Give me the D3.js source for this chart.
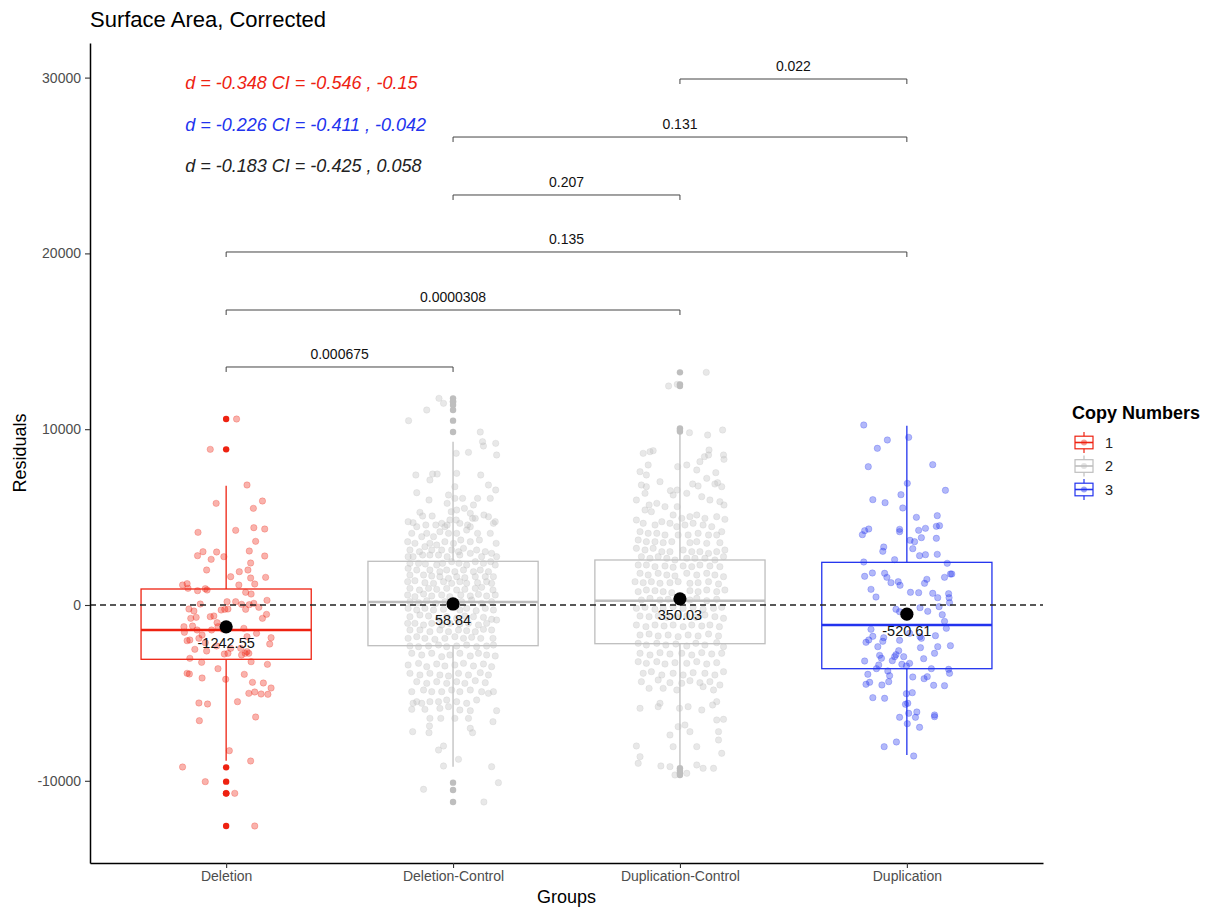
<!DOCTYPE html>
<html lang="en">
<head>
<meta charset="UTF-8">
<title>Surface Area, Corrected</title>
<script src="https://d3js.org/d3.v7.min.js"></script>
<style>
  body { margin: 0; background: #ffffff; }
  svg { display: block; font-family: "Liberation Sans", Arial, sans-serif; }
</style>
</head>
<body>
<div id="chart"></div>
<script>
// groups and their copy number
const groups = ["Deletion", "Deletion-Control", "Duplication-Control", "Duplication"];
const copyNumber = ["1", "2", "2", "3"];
const copyLevels = ["1", "2", "3"];
const copyColors = {"1": "#ee2211", "2": "#bebebe", "3": "#2233ee"};

// box statistics
const q1Values = [-3089, -2315, -2201, -3623];
const medianValues = [-1422, 171, 245, -1138];
const q3Values = [910, 2486, 2560, 2427];
const whiskerLow = [-8857, -9198, -9200, -8532];
const whiskerHigh = [6786, 9289, 9800, 10200];
const meanValues = [-1242.55, 58.84, 350.03, -520.61];
const outlierValues = [
  [10579, 8854, -9234, -10049, -10713, -10713, -12571],
  [11755, 11565, 11376, 11091, 10485, 9840, -10106, -10523, -11206],
  [13234, 12552, 12457, 10049, 9954, 9870, -9290, -9420, -9574, -9669],
  []
];

// jittered residuals: [jitter (-1..1 of jitter width), residual]
const deletionPoints = [
  [.23,10579],[-.35,8854],[.46,6825],[-.22,5782],[.80,5915],[.60,5498],[.21,4247],[-.62,4133],[.61,4398],[.85,4322],
  [.65,3621],[.51,3071],[-.21,3014],[-.63,2806],[-.51,3033],[-.33,2597],[-.05,2749],[.85,2787],[.54,2389],[-.43,1990],
  [.29,1896],[.48,1990],[.10,1611],[.54,1535],[.87,1573],[-.96,1137],[-.86,1213],[-.84,948],[-.63,815],[-.46,929],
  [-.42,853],[.28,1137],[.63,1194],[.43,720],[.55,625],[.02,189],[.21,189],[-.57,57],[-.82,-228],[-.71,-342],
  [-.78,-759],[-.66,-702],[-.35,-664],[-.27,-626],[-.11,-285],[-.03,-247],[.04,-228],[.34,38],[.43,-247],[.51,19],
  [.61,94],[.72,-133],[.90,265],[.80,-759],[.89,-531],[-.93,-1233],[-.74,-1195],[-.92,-1555],[-.64,-1422],[-.53,-1707],
  [-.32,-1422],[-.20,-1005],[-.18,-1233],[-.07,-1384],[.39,-1327],[.46,-1802],[.67,-1612],[.99,-1858],[-.86,-2029],[-.80,-1991],
  [-.60,-1896],[-.46,-2143],[-.69,-2522],[-.43,-2617],[-.21,-2332],[-.04,-2788],[.04,-2750],[.10,-2465],[.32,-2465],[.42,-2750],
  [.46,-2655],[.50,-2750],[.34,-2844],[.96,-2219],[-.80,-3034],[-.54,-3262],[-.18,-3622],[-.01,-4228],[.40,-3944],[.55,-3224],
  [.91,-3375],[-.86,-3887],[-.81,-3925],[-.53,-4153],[.58,-4399],[.82,-4437],[.50,-5025],[.63,-4949],[.77,-5063],[.92,-5081],
  [.99,-4721],[-.60,-5574],[-.41,-5632],[.25,-5499],[-.59,-6580],[.65,-6371],[.07,-8286],[.54,-8874],[-.96,-9215],[-.46,-10049],
  [.19,-10713],[0,-10713],[.63,-12571]
];

const deletionControlPoints = [
  [-.31,11755],[0,11565],[-.21,11471],[-.58,11091],[-.98,10485],[.60,9840],
  [.94,9195],[.65,9290],[.67,9044],[.96,8532],[.07,8627],[.34,8684],[-.82,7394],[-.45,7451],[-.35,7451],[-.51,7110],
  [.08,7489],[.61,7394],[.78,6825],[.94,6541],[-.80,6389],[-.10,6257],[.04,6731],[.04,6067],[.21,6067],[.54,6067],
  [-.53,5972],[.82,6067],[-.13,5783],[.45,5688],[.25,5498],[-.73,5271],[-.04,5309],[.08,5403],[.38,5214],[.68,5119],
  [.78,5024],[-.99,4740],[-.88,4683],[-.67,5062],[-.46,5062],[-.80,4455],[-.60,4550],[-.38,4550],[-.25,4645],[-.18,4455],
  [-.13,4550],[-.07,4835],[.07,4835],[.15,4645],[.32,4550],[.43,4929],[.49,4929],[.89,4645],[.93,4740],[-.91,4076],
  [-.69,3887],[-.58,4076],[-.43,3887],[-.29,4171],[-.10,4076],[.08,4076],[.30,4266],[.38,4455],[.54,4076],[.82,4076],
  [-1,3602],[-.84,3507],[-.51,3507],[-.36,3413],[-.18,3602],[.01,3507],[.17,3697],[.38,3602],[.58,3697],[.95,3507],
  [-.95,3128],[-.74,3033],[-.62,3318],[-.47,3128],[-.25,3128],[-.03,3128],[.12,3033],[.23,3223],[.52,3128],[.71,3033],
  [.85,2939],[-.99,2749],[-.88,2749],[-.67,2844],[-.51,2844],[-.32,2844],[-.13,2749],[.15,2844],[.38,2939],[.63,2749],
  [.96,2749],[-.95,2370],[-.76,2370],[-.61,2332],[-.36,2275],[-.23,2370],[-.03,2465],[.13,2370],[.30,2275],[.49,2465],
  [.67,2370],[.83,2465],[.93,2275],[-.99,2085],[-.80,1991],[-.51,1991],[-.29,1896],[-.14,1991],[.04,1896],[.23,1991],
  [.45,1896],[.60,1991],[.78,1896],[-.95,1706],[-.65,1706],[-.47,1649],[-.29,1611],[-.10,1517],[.08,1611],[.26,1555],
  [.49,1611],[.71,1611],[.89,1611],[-1,1327],[-.84,1384],[-.62,1270],[-.43,1232],[-.21,1327],[-.03,1232],[.15,1327],
  [.30,1232],[.54,1270],[.74,1327],[.85,1232],[-.95,948],[-.74,853],[-.54,948],[-.36,891],[-.14,948],[.08,853],
  [.26,891],[.49,948],[.63,1005],[.88,853],[-1,569],[-.84,474],[-.65,625],[-.47,512],[-.25,569],[-.07,474],
  [.17,569],[.38,512],[.56,606],[.74,512],[.93,569],[-.95,189],[-.76,133],[-.58,246],[-.38,95],[-.18,189],
  [.19,189],[.41,284],[.63,95],[.85,189],[-.99,-190],[-.80,-285],[-.62,-190],[-.43,-285],[-.21,-247],[.15,-285],
  [.30,-190],[.51,-322],[.71,-190],[.89,-285],[-.95,-664],[-.73,-569],[-.54,-626],[-.32,-758],[-.14,-664],[.08,-758],
  [.26,-626],[.45,-664],[.67,-702],[.85,-815],[-1,-1043],[-.84,-1043],[-.65,-1138],[-.47,-1043],[-.25,-1138],[-.07,-1043],
  [.15,-1081],[.34,-1043],[.56,-1138],[.74,-1043],[.96,-853],[-.95,-1422],[-.73,-1422],[-.51,-1517],[-.29,-1422],[-.10,-1517],
  [.12,-1422],[.30,-1460],[.49,-1517],[.67,-1384],[.85,-1422],[-.99,-1896],[-.80,-1801],[-.62,-1896],[-.40,-1953],[-.18,-1896],
  [.04,-1801],[.23,-1896],[.41,-1839],[.61,-1896],[.88,-1896],[-.95,-2332],[-.76,-2370],[-.54,-2332],[-.32,-2275],[-.14,-2370],
  [.08,-2332],[.30,-2275],[.52,-2370],[.74,-2332],[.89,-2275],[-.91,-2749],[-.69,-2844],[-.47,-2749],[-.25,-2939],[-.07,-2844],
  [.15,-2749],[.38,-2901],[.56,-2749],[.74,-2844],[.93,-2901],[-.99,-3413],[-.76,-3318],[-.58,-3508],[-.36,-3356],[-.18,-3470],
  [.04,-3413],[.23,-3318],[.45,-3470],[.67,-3356],[.85,-3508],[-.95,-3887],[-.73,-3982],[-.51,-3887],[-.29,-3982],[-.10,-4039],
  [.12,-3887],[.34,-3982],[.60,-3849],[.78,-3982],[-.80,-4361],[-.58,-4456],[-.36,-4361],[-.14,-4456],[.08,-4361],[.26,-4456],
  [.49,-4304],[.71,-4418],[-.91,-4930],[-.65,-4835],[-.47,-4930],[-.25,-4930],[-.03,-4835],[.15,-4930],[.38,-4835],[.63,-4930],
  [.89,-4930],[-.80,-5499],[-.69,-5593],[-.88,-5593],[-.51,-5499],[-.32,-5499],[-.14,-5404],[.08,-5499],[.30,-5593],[.52,-5404],
  [.78,-5025],[-.91,-5935],[-.62,-5935],[-.29,-5878],[-.10,-5783],[.15,-5973],[.38,-6011],[.96,-6011],[-.51,-6447],[-.27,-6447],
  [.04,-6447],[.34,-6447],[.88,-6636],[-.89,-7205],[-.53,-7262],[-.52,-6883],[.38,-7015],[.43,-7262],[-.21,-8020],[-.32,-8248],
  [.12,-8779],[-.21,-9158],[.85,-9196],[-.65,-10485],[1,-10106],[.68,-11206]
];

const duplicationControlPoints = [
  [.58,13234],[-.25,12457],[-.06,12552],[.21,9803],[.61,9670],[.94,9954],[.15,-9574],[-.11,-9669],
  [-.81,8627],[-.66,8722],[-.59,8779],[-.70,7964],[-.88,7584],[-.05,7869],[.15,7964],[.37,7679],[.44,8153],[.54,8438],
  [.63,8532],[.64,8817],[.96,8532],[.97,8286],[.79,7528],[-.74,7395],[-.44,7016],[-.85,6826],[-.74,6731],[-.21,6504],
  [-.06,6542],[.15,6352],[.28,6883],[.40,6769],[.59,7205],[.77,6883],[.83,6959],[.92,6731],[-.96,5973],[-.77,6352],
  [-.68,5688],[-.51,5783],[-.33,5594],[-.15,6257],[-.06,5594],[.48,6162],[.66,5973],[.88,5878],[.97,5688],[-.77,5404],
  [-.63,5309],[-.15,5120],[.04,4930],[.22,5025],[.37,5120],[.55,4930],[.81,5025],[.99,4873],[-.96,4835],[-.81,4646],
  [-.55,4551],[-.40,4740],[-.22,4646],[-.07,4456],[.11,4551],[.29,4646],[.51,4551],[.70,4456],[.92,4172],[-.88,4172],
  [-.70,4077],[-.51,4077],[-.33,3982],[-.04,3982],[.18,3982],[.40,4077],[.63,3982],[.81,3982],[-.92,3698],[-.74,3603],
  [-.55,3603],[-.37,3546],[-.18,3603],[.22,3546],[.37,3603],[.59,3508],[.88,3546],[-.96,3224],[-.77,3129],[-.59,3224],
  [-.40,3034],[-.22,3034],[.07,3129],[.26,3034],[.44,3034],[.63,2939],[.81,3034],[.99,3129],[-.85,2750],[-.66,2655],
  [-.48,2750],[-.29,2655],[-.11,2560],[.15,2655],[.33,2655],[.55,2655],[.77,2560],[.96,2750],[-.92,2276],[-.74,2276],
  [-.55,2181],[-.33,2219],[-.15,2143],[.07,2219],[.26,2181],[.44,2276],[.66,2219],[.88,2181],[-.88,1802],[-.70,1707],
  [-.48,1802],[-.29,1707],[-.11,1650],[.15,1802],[.37,1707],[.59,1802],[.77,1707],[.96,1612],[-.99,1328],[-.81,1271],
  [-.63,1328],[-.44,1233],[-.22,1271],[-.04,1328],[.22,1233],[.40,1271],[.63,1328],[.85,1195],[-.92,759],[-.74,854],
  [-.55,816],[-.37,759],[-.18,702],[.22,816],[.40,759],[.59,854],[.81,759],[.99,854],[-.85,285],[-.66,380],
  [-.44,285],[-.26,323],[.22,285],[.37,380],[.59,247],[.81,323],[-.96,-189],[-.77,-132],[-.55,-246],[-.37,-189],
  [-.15,-94],[.07,-189],[.29,-132],[.51,-246],[.74,-189],[.92,-132],[-.88,-625],[-.68,-663],[-.48,-625],[-.29,-701],
  [-.07,-663],[.15,-625],[.35,-701],[.55,-568],[.77,-663],[.96,-758],[-.96,-1137],[-.75,-1232],[-.55,-1137],[-.35,-1194],
  [-.15,-1137],[.07,-1232],[.26,-1137],[.48,-1194],[.66,-1137],[.87,-1232],[-.88,-1706],[-.68,-1649],[-.48,-1763],[-.26,-1706],
  [-.04,-1801],[.18,-1706],[.40,-1763],[.63,-1649],[.85,-1763],[-.92,-2180],[-.74,-2275],[-.51,-2180],[-.31,-2275],[-.09,-2218],
  [.15,-2332],[.35,-2180],[.55,-2275],[.81,-2142],[.96,-2370],[-.88,-2749],[-.66,-2844],[-.44,-2711],[-.22,-2787],[.04,-2749],
  [.26,-2844],[.48,-2711],[.70,-2787],[.92,-2749],[-.92,-3223],[-.74,-3318],[-.51,-3223],[-.33,-3356],[-.11,-3280],[.15,-3318],
  [.37,-3223],[.59,-3356],[.81,-3280],[-.81,-3886],[-.63,-3792],[-.40,-3981],[-.15,-3886],[.07,-3981],[.29,-3849],[.55,-3886],
  [.77,-3981],[.96,-3792],[-.85,-4360],[-.48,-4266],[-.22,-4417],[.04,-4455],[.22,-4304],[.44,-4417],[.66,-4360],[.88,-4550],
  [-.68,-4740],[-.37,-4740],[-.07,-4834],[.51,-4645],[.74,-4834],[-.44,-5593],[-.48,-5782],[-.88,-5877],[-.01,-5877],[.18,-5782],
  [.48,-5972],[.81,-5498],[.72,-5688],[.81,-6541],[.96,-6503],[-.22,-7394],[-.04,-6920],[.11,-6825],[.22,-7205],[.85,-7205],
  [.85,-7678],[-.15,-8058],[.37,-8058],[-.96,-8020],[-.88,-8626],[-.92,-9006],[-.42,-9157],[-.22,-9195],[.37,-9100],[.51,-9290],
  [.74,-9290],[.92,-8437]
];

const duplicationPoints = [
  [-.95,10239],[.04,9537],[-.43,9386],[-.65,8912],[.57,7983],[-.85,7869],[.01,6921],[.85,6523],[-.75,5992],[-.48,5821],
  [-.13,6276],[-.09,5518],[.21,4987],[.67,5082],[-.98,4001],[-.93,4228],[-.84,4323],[-.16,4304],[-.16,4172],[.26,4247],
  [.41,4361],[.65,4475],[.72,4513],[.65,3793],[.07,3679],[.17,3603],[.32,3831],[-.51,3299],[-.53,3053],[.13,3205],
  [.28,2806],[.41,2863],[.67,2882],[-.27,2579],[-.95,2446],[.89,2370],[-.93,1631],[-.76,1821],[-.49,1802],[-.44,1574],
  [-.35,1271],[-.19,1328],[-.15,1119],[.44,1460],[.39,1233],[.83,1574],[.96,1764],[.99,1764],[-.79,891],[-.68,455],
  [.08,721],[.26,702],[.57,664],[.68,417],[.92,645],[.93,417],[.94,133],[-.24,-246],[-.16,-379],[.29,-151],
  [.46,-360],[.71,-94],[.78,-550],[.83,-929],[.87,-1327],[-.79,-1384],[-.75,-1782],[-.90,-2123],[-.84,-1990],[-.64,-2370],
  [-.51,-1858],[-.53,-2066],[-.16,-2009],[.06,-1611],[.29,-1801],[.32,-1896],[.30,-2426],[.63,-1744],[.68,-2370],[.96,-2313],
  [-.93,-3185],[-.60,-2863],[-.56,-3033],[-.32,-3166],[-.27,-2938],[-.24,-2825],[-.18,-2597],[-.07,-2938],[.06,-3318],[-.11,-3374],
  [-.01,-3469],[.37,-3052],[.61,-2749],[-.62,-3412],[-.67,-3621],[-.42,-3754],[-.38,-4019],[-.40,-4360],[.13,-4095],[.38,-4190],
  [.45,-4076],[.54,-3621],[.92,-3659],[.94,-3886],[-.86,-3943],[-.90,-4512],[-.82,-4398],[-.55,-4550],[.59,-4569],[.83,-4588],
  [-.75,-5270],[-.49,-5308],[-.01,-5043],[.12,-4986],[-.03,-5649],[.02,-5593],[.04,-6162],[.22,-6086],[-.16,-6389],[.19,-6389],
  [.61,-6256],[.61,-6351],[.01,-6749],[.28,-6958],[-.50,-8058],[-.23,-7792],[.15,-8588]
];
const groupPoints = [deletionPoints, deletionControlPoints, duplicationControlPoints, duplicationPoints];

// pairwise comparisons
const bracketFrom = ["Deletion", "Deletion", "Deletion", "Deletion-Control", "Deletion-Control", "Duplication-Control"];
const bracketTo = ["Deletion-Control", "Duplication-Control", "Duplication", "Duplication-Control", "Duplication", "Duplication"];
const bracketP = ["0.000675", "0.0000308", "0.135", "0.207", "0.131", "0.022"];
const bracketY = [13538, 16780, 20080, 23322, 26620, 29920];

// effect sizes
const effectLabels = ["d = -0.348 CI = -0.546 , -0.15", "d = -0.226 CI = -0.411 , -0.042", "d = -0.183 CI = -0.425 , 0.058"];
const effectColors = ["#ee2211", "#2233ee", "#222222"];
const effectY = [29693, 27304, 24972];

const yTicks = [-10000, 0, 10000, 20000, 30000];

const width = 1212, height = 908;
const svg = d3.select("#chart").append("svg")
    .attr("width", width)
    .attr("height", height);

const x = d3.scalePoint().domain(groups).range([90, 1043]).padding(0.6);
const y = d3.scaleLinear().domain([-14676, 31968]).range([863, 43]);
const step = x.step();
const jitterWidth = 0.2;
const halfBox = 0.375 * step;

// jittered points
groups.forEach((g, i) => {
    const col = copyColors[copyNumber[i]];
    svg.append("g").selectAll("circle")
        .data(groupPoints[i])
        .join("circle")
        .attr("cx", d => x(g) + d[0] * jitterWidth * step)
        .attr("cy", d => y(d[1]))
        .attr("r", 3.2)
        .attr("fill", col)
        .attr("fill-opacity", 0.35)
        .attr("stroke", col)
        .attr("stroke-opacity", 0.4)
        .attr("stroke-width", 0.6);
});

// boxplots
groups.forEach((g, i) => {
    const col = copyColors[copyNumber[i]];
    const cx = x(g);
    const box = svg.append("g").attr("stroke", col).attr("fill", "none");
    box.append("line").attr("x1", cx).attr("x2", cx)
        .attr("y1", y(q3Values[i])).attr("y2", y(whiskerHigh[i])).attr("stroke-width", 1.3);
    box.append("line").attr("x1", cx).attr("x2", cx)
        .attr("y1", y(q1Values[i])).attr("y2", y(whiskerLow[i])).attr("stroke-width", 1.3);
    box.append("rect")
        .attr("x", cx - halfBox).attr("width", 2 * halfBox)
        .attr("y", y(q3Values[i])).attr("height", y(q1Values[i]) - y(q3Values[i]))
        .attr("stroke-width", 1.3);
    box.append("line").attr("x1", cx - halfBox).attr("x2", cx + halfBox)
        .attr("y1", y(medianValues[i])).attr("y2", y(medianValues[i])).attr("stroke-width", 2.4);
    svg.append("g").selectAll("circle")
        .data(outlierValues[i])
        .join("circle")
        .attr("cx", cx)
        .attr("cy", d => y(d))
        .attr("r", 3.2)
        .attr("fill", col);
});

// zero reference
svg.append("line")
    .attr("x1", 90).attr("x2", 1043)
    .attr("y1", y(0)).attr("y2", y(0))
    .attr("stroke", "#222")
    .attr("stroke-width", 1.4)
    .attr("stroke-dasharray", "6,4");

// means
svg.append("g").selectAll("circle")
    .data(meanValues)
    .join("circle")
    .attr("cx", (d, i) => x(groups[i]))
    .attr("cy", d => y(d))
    .attr("r", 6.6)
    .attr("fill", "#000");
svg.append("g").selectAll("text")
    .data(meanValues)
    .join("text")
    .attr("x", (d, i) => x(groups[i]))
    .attr("y", d => y(d) + 21.5)
    .attr("text-anchor", "middle")
    .attr("font-size", "14.5px")
    .attr("fill", "#111")
    .text(d => d.toFixed(2));

// brackets
const tip = 5;
bracketP.forEach((p, i) => {
    const x1 = x(bracketFrom[i]), x2 = x(bracketTo[i]), by = y(bracketY[i]);
    svg.append("path")
        .attr("d", `M${x1},${by + tip}V${by}H${x2}V${by + tip}`)
        .attr("fill", "none")
        .attr("stroke", "#444")
        .attr("stroke-width", 1);
    svg.append("text")
        .attr("x", (x1 + x2) / 2)
        .attr("y", by - 8)
        .attr("text-anchor", "middle")
        .attr("font-size", "14px")
        .attr("fill", "#111")
        .text(p);
});

// effect size labels
effectLabels.forEach((t, i) => {
    svg.append("text")
        .attr("x", x(groups[0]) - 0.18 * step)
        .attr("y", y(effectY[i]))
        .attr("dy", "0.35em")
        .attr("font-size", "18px")
        .attr("font-style", "italic")
        .attr("fill", effectColors[i])
        .text(t);
});

// axes
const yAxis = svg.append("g")
    .attr("transform", "translate(90,0)")
    .call(d3.axisLeft(y).tickValues(yTicks).tickFormat(d => String(d)).tickSize(5).tickPadding(4).tickSizeOuter(0));
const xAxis = svg.append("g")
    .attr("transform", "translate(0,863)")
    .call(d3.axisBottom(x).tickSize(5).tickPadding(3).tickSizeOuter(0));
[yAxis, xAxis].forEach(a => {
    a.select(".domain").attr("stroke", "#000").attr("stroke-width", 1.5);
    a.selectAll(".tick line").attr("stroke", "#333").attr("stroke-width", 1.1);
    a.selectAll(".tick text").attr("fill", "#4d4d4d").attr("font-size", "14px")
        .attr("font-family", "'Liberation Sans', Arial, sans-serif");
});

// titles
svg.append("text")
    .attr("x", 90).attr("y", 27)
    .attr("font-size", "22px")
    .attr("fill", "#000")
    .text("Surface Area, Corrected");
svg.append("text")
    .attr("x", 566.5).attr("y", 903)
    .attr("text-anchor", "middle")
    .attr("font-size", "18px")
    .text("Groups");
svg.append("text")
    .attr("transform", "translate(20,453) rotate(-90)")
    .attr("text-anchor", "middle")
    .attr("dy", "0.35em")
    .attr("font-size", "18px")
    .text("Residuals");

// legend
const legend = svg.append("g").attr("transform", "translate(1072,0)");
legend.append("text")
    .attr("x", 0).attr("y", 419)
    .attr("font-size", "18px")
    .attr("font-weight", "bold")
    .text("Copy Numbers");
copyLevels.forEach((lv, i) => {
    const col = copyColors[lv];
    const cy = 442.5 + i * 23.5;
    const k = legend.append("g").attr("stroke", col).attr("fill", "none").attr("stroke-width", 1.2);
    k.append("line").attr("x1", 12).attr("x2", 12).attr("y1", cy - 10.5).attr("y2", cy + 10.5);
    k.append("rect").attr("x", 3).attr("y", cy - 6.3).attr("width", 18).attr("height", 12.6).attr("fill", "#fff");
    k.append("line").attr("x1", 3).attr("x2", 21).attr("y1", cy).attr("y2", cy).attr("stroke-width", 1.6);
    legend.append("circle").attr("cx", 12).attr("cy", cy).attr("r", 3)
        .attr("fill", col).attr("fill-opacity", 0.45);
    legend.append("text")
        .attr("x", 33).attr("y", cy)
        .attr("dy", "0.35em")
        .attr("font-size", "14.5px")
        .attr("fill", "#222")
        .text(lv);
});
</script>
</body>
</html>
